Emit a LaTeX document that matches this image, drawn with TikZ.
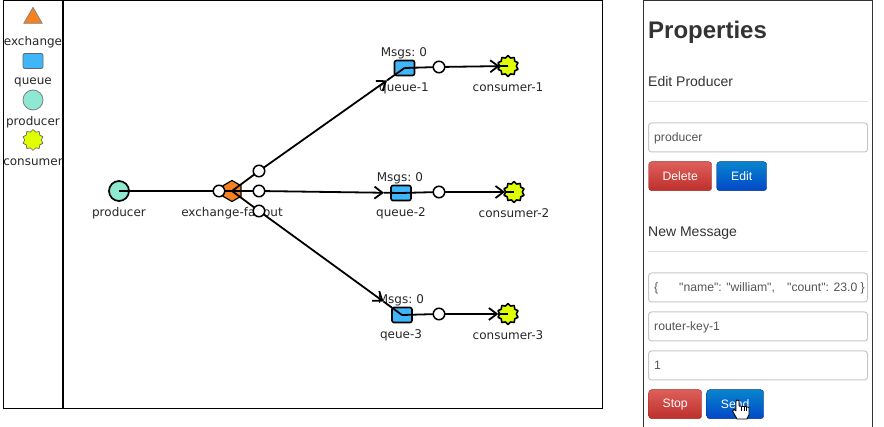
\documentclass[tikz,border=0pt]{standalone}
\usepackage{fontspec}
\setmainfont{DejaVu Sans}
\newfontfamily\panelfont{Liberation Sans}
\usetikzlibrary{arrows.meta,calc,shapes.geometric}
\definecolor{orng}{HTML}{F5821F}
\definecolor{qblue}{HTML}{3FB6FA}
\definecolor{mint}{HTML}{8EE8D2}
\definecolor{lime}{HTML}{E0FF00}
\definecolor{ink}{HTML}{333333}
\definecolor{fieldtxt}{HTML}{555555}
\definecolor{redtop}{HTML}{DE5F5B}
\definecolor{redbot}{HTML}{BD2F2B}
\definecolor{bluetop}{HTML}{0885CC}
\definecolor{bluebot}{HTML}{0247C8}
\tikzset{
  lbl/.style={font=\fontsize{12}{13}\selectfont,text=black!85,inner sep=0pt,anchor=center},
  edge/.style={line width=1.8pt,black},
  tip/.style={edge,-{Straight Barb[length=8pt,width=12pt,line width=1.8pt]}},
  wpt/.style={circle,draw=black,line width=1.5pt,fill=white,minimum size=11.5pt,inner sep=0pt},
  qbox/.style={draw=black,line width=1.6pt,fill=qblue,rounded corners=2pt,minimum width=20pt,minimum height=15pt,inner sep=0pt},
  cons/.style={star,star points=10,star point ratio=1.26,draw=black,line width=1.6pt,line join=round,fill=lime,minimum size=21pt,inner sep=0pt},
  prod/.style={circle,draw=black,line width=1.7pt,fill=mint,minimum size=20pt,inner sep=0pt},
  exch/.style={regular polygon,regular polygon sides=6,shape border rotate=30,draw=black,line width=1.2pt,fill=orng,minimum size=21pt,inner sep=0pt},
  field/.style={draw=black!22,line width=1pt,fill=white,rounded corners=3pt,minimum width=219pt,minimum height=29pt,inner sep=0pt,anchor=north west},
  ftext/.style={font=\panelfont\fontsize{12.2}{14}\selectfont,text=fieldtxt,inner sep=0pt,anchor=base west},
  hd/.style={font=\panelfont\fontsize{14}{16}\selectfont,text=ink,inner sep=0pt,anchor=base west},
  btnred/.style={top color=redtop,bottom color=redbot,draw=redbot!85!black,rounded corners=3pt,inner sep=0pt,anchor=north west,minimum height=29pt,text=white,font=\panelfont\fontsize{12.2}{14}\selectfont},
  btnblue/.style={top color=bluetop,bottom color=bluebot,draw=bluebot!70!black,rounded corners=3pt,inner sep=0pt,anchor=north west,minimum height=29pt,text=white,font=\panelfont\fontsize{12.2}{14}\selectfont},
}
\begin{document}
\begin{tikzpicture}[x=1pt,y=-1pt]
\useasboundingbox (0,0) rectangle (884,427);
% frames
\draw[black,line width=1pt] (3.5,0.5) rectangle (602.5,409);
\draw[black,line width=2pt] (63,0.5) -- (63,409);
\draw[ink,line width=1pt] (643.5,427) -- (643.5,0.5) -- (872.5,0.5) -- (872.5,427);
% palette
\node[isosceles triangle,isosceles triangle apex angle=60,shape border rotate=90,draw=gray,line width=.7pt,fill=orng,minimum height=16pt,minimum width=18pt,inner sep=0pt] (palex) at (33,18) {};
\node[lbl] (palexl) at (33,42) {exchange};
\node[draw=black!60,line width=.8pt,fill=qblue,rounded corners=2pt,minimum width=20pt,minimum height=15pt,inner sep=0pt] (palq) at (33,61) {};
\node[lbl] (palql) at (33,82) {queue};
\node[circle,draw=black!50,line width=.8pt,fill=mint,minimum size=20pt,inner sep=0pt] (palp) at (33,100) {};
\node[lbl] (palpl) at (33,122) {producer};
\node[star,star points=10,star point ratio=1.26,draw=black!60,line width=.7pt,line join=round,fill=lime,minimum size=21pt,inner sep=0pt] (palc) at (33,140) {};
\node[lbl] (palcl) at (33,162) {consumer};
% nodes
\node[prod] (p) at (119,191) {};
\node[exch] (x) at (232,191) {};
\node[qbox] (q1) at (404.5,68) {};
\node[qbox] (q2) at (401,193) {};
\node[qbox] (q3) at (402,315) {};
\node[cons] (c1) at (508,66) {};
\node[cons] (c2) at (514,192) {};
\node[cons] (c3) at (508,314) {};
\coordinate (wa) at (219,191);
\coordinate (w1) at (259,171);
\coordinate (w2) at (259,191);
\coordinate (w3) at (259,211);
\coordinate (v1) at (439,67);
\coordinate (v2) at (439,192);
\coordinate (v3) at (439,314);
\coordinate (t1) at ($(w1)!0.88!(q1.center)$);
\coordinate (t2) at ($(w2)!0.88!(q2.center)$);
\coordinate (t3) at ($(w3)!0.87!(q3.center)$);
\coordinate (u1) at ($(v1)!0.88!(c1.center)$);
\coordinate (u2) at ($(v2)!0.88!(c2.center)$);
\coordinate (u3) at ($(v3)!0.86!(c3.center)$);
% labels beneath edges
\node[lbl] (pl) at (119,213) {producer};
\node[lbl] (xl) at (232,213) {exchange-fanout};
\node[lbl] (q1l) at (404,88.5) {queue-1};
\node[lbl] (q2l) at (401,213.5) {queue-2};
\node[lbl] (q3l) at (401,335.5) {qeue-3};
\node[lbl] (m1) at (404,53.5) {Msgs:\kern-1pt{} 0};
\node[lbl] (m2) at (400,178.5) {Msgs:\kern-1pt{} 0};
\node[lbl] (m3) at (401,300.5) {Msgs:\kern-1pt{} 0};
\node[lbl] (c1l) at (508,87.5) {consumer-1};
\node[lbl] (c2l) at (514,213.5) {consumer-2};
\node[lbl] (c3l) at (508,335.5) {consumer-3};
% edges
\draw[edge] (p.center) -- (wa) -- (x.center);
\foreach \w/\t/\q in {w1/t1/q1,w2/t2/q2,w3/t3/q3}{
  \draw[edge] (x.center) -- (\w);
  \draw[edge] (\t) -- (\q.center);
  \draw[tip] (\w) -- (\t);
}
\foreach \q/\v/\u/\c in {q1/v1/u1/c1,q2/v2/u2/c2,q3/v3/u3/c3}{
  \draw[edge] (\q.center) -- (\v);
  \draw[edge] (\u) -- (\c.center);
  \draw[tip] (\v) -- (\u);
}
\foreach \w in {wa,w1,w2,w3,v1,v2,v3}{
  \node[wpt] (n\w) at (\w) {};
}
% properties panel
\node[font=\panelfont\bfseries\fontsize{24}{28}\selectfont,text=ink,inner sep=0pt,anchor=base west] (title) at (648,39) {Properties};
\node[hd] (h1) at (648,86.5) {Edit Producer};
\draw[black!12,line width=1pt] (648,101.5) -- (868,101.5);
\node[field] (f1) at (648,122.5) {};
\node[ftext] (f1t) at (654,141.5) {producer};
\node[btnred,minimum width=63pt] (bdel) at (648.5,161.5) {Delete};
\node[btnblue,minimum width=50pt] (bedit) at (716.5,161.5) {Edit};
\node[hd] (h2) at (648,236.5) {New Message};
\draw[black!12,line width=1pt] (648,251.5) -- (868,251.5);
\node[field] (f2) at (648,272.5) {};
\node[ftext] (f2a) at (654,291.5) {\{};
\node[ftext] (f2b) at (679,291.5) {"name": "william",};
\node[ftext] (f2c) at (787,291.5) {"count": 23.0 \}};
\node[field] (f3) at (648,311.5) {};
\node[ftext] (f3t) at (654,330.5) {router-key-1};
\node[field] (f4) at (648,350.5) {};
\node[ftext] (f4t) at (654,369.5) {1};
\node[btnred,minimum width=53pt] (bstop) at (648.5,389.5) {Stop};
\node[btnblue,minimum width=57pt] (bsend) at (706.5,389.5) {Send};
% hand cursor
\draw[black,fill=white,line width=.9pt,line join=round]
  (736,401) -- (736,411) -- (734,409.5) -- (732.5,411) -- (737,419) -- (747,419) -- (749,414.5) -- (749,407.5)
  -- (746,406.5) -- (743,406.5) -- (739,406) -- (739,401) .. controls (738.5,399.5) and (736.5,399.5) .. (736,401) -- cycle;
\draw[black,line width=.6pt] (741,407) -- (741,411) (744,407) -- (744,411) (746.5,407) -- (746.5,411);
\end{tikzpicture}
\end{document}
